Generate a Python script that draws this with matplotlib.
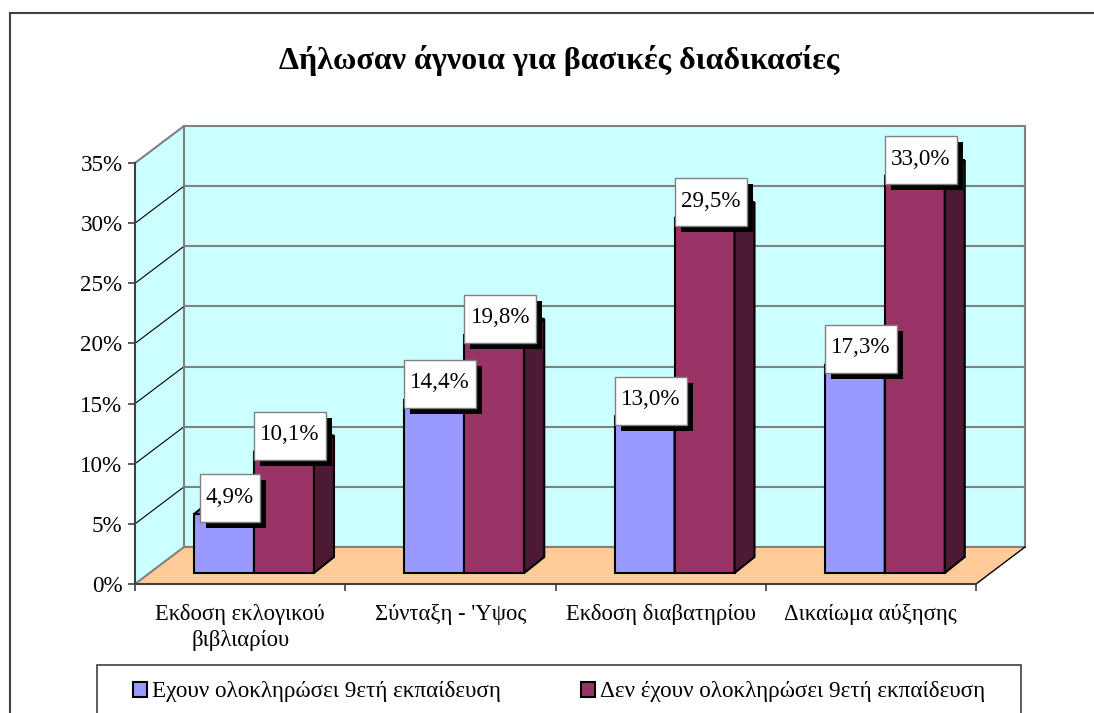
import matplotlib
matplotlib.use("Agg")
import matplotlib.pyplot as plt
from matplotlib.lines import Line2D
from matplotlib.patches import Patch, Rectangle

plt.rcParams['font.family'] = ['Liberation Serif', 'DejaVu Serif']

title = "Δήλωσαν άγνοια για βασικές διαδικασίες"
categories = ["Εκδοση εκλογικού\nβιβλιαρίου", "Σύνταξη - 'Υψος", "Εκδοση διαβατηρίου", "Δικαίωμα αύξησης"]
series_names = ["Εχουν ολοκληρώσει 9ετή εκπαίδευση", "Δεν έχουν ολοκληρώσει 9ετή εκπαίδευση"]
completed = [4.9, 14.4, 13.0, 17.3]
not_completed = [10.1, 19.8, 29.5, 33.0]
y_ticks = [0, 5, 10, 15, 20, 25, 30, 35]

WALL = '#CCFFFF'
FLOOR = '#FFCC99'
GRID = '#808080'
DARK = '#404040'
BLUE = ('#9999FF', '#4D4D80', '#7A7ACC')
PURPLE = ('#993366', '#4D1A33', '#7A2952')

W, H = 1094, 713
PX_X = 841 / 4   # pixels for one category
PX_Y = 421 / 35  # pixels for one percent


def ox(px):
    return px / PX_X


def oy(px):
    return px / PX_Y


fig = plt.figure(figsize=(W / 100, H / 100), dpi=100, facecolor='white')
ax = fig.add_axes([135 / W, (H - 584) / H, 841 / W, 421 / H])
ax.set_xlim(0, 4)
ax.set_ylim(0, 35)
ax.patch.set_visible(False)

# walls and floor, 49 px right and 37 px up from the front plane
wx, wy = ox(49), oy(37)
ax.fill([0, wx, wx, 0], [0, wy, 35 + wy, 35], fc=WALL, ec='none', zorder=1, clip_on=False)
ax.fill([wx, 4 + wx, 4 + wx, wx], [wy, wy, 35 + wy, 35 + wy], fc=WALL, ec=GRID, lw=1.5, zorder=1, clip_on=False)
ax.fill([0, 4, 4 + wx, wx], [0, 0, wy, wy], fc=FLOOR, ec='none', zorder=1, clip_on=False)
ax.plot([0, wx], [0, wy], color=GRID, lw=1.5, zorder=2, clip_on=False)
ax.plot([wx, 4 + wx], [wy, wy], color=GRID, lw=1.5, zorder=2, clip_on=False)
ax.plot([4, 4 + wx], [0, wy], color='black', lw=1, zorder=2, clip_on=False)
ax.plot([0, wx], [35, 35 + wy], color=GRID, lw=1.5, zorder=2, clip_on=False)
for t in y_ticks[1:-1]:
    ax.plot([0, wx], [t, t + wy], color='black', lw=0.8, zorder=2, clip_on=False)
    ax.plot([wx, 4 + wx], [t + wy, t + wy], color=GRID, lw=1.5, zorder=2, clip_on=False)

# bars
bar_w = ox(60)
bar_left = ox(59)
base = oy(11)
dx, dy = ox(20), oy(16)


def draw_bar(x, v, cols, z):
    top = base + v
    ax.fill([x, x + bar_w, x + bar_w, x], [base, base, top, top], fc=cols[0], ec='black', lw=1.5, zorder=z, clip_on=False)
    ax.fill([x + bar_w, x + bar_w + dx, x + bar_w + dx, x + bar_w], [base, base + dy, top + dy, top],
            fc=cols[1], ec='black', lw=1.5, zorder=z, clip_on=False)
    ax.fill([x, x + bar_w, x + bar_w + dx, x + dx], [top, top, top + dy, top + dy],
            fc=cols[2], ec='black', lw=1.5, zorder=z, clip_on=False)


def draw_label(x, v, z):
    txt = f"{v:.1f}%".replace('.', ',')
    bw = ox(60 if len(txt) == 4 else 72)
    bh = oy(48)
    cx = x + bar_w / 2 + ox(6)
    cy = base + v + dy
    ax.add_patch(Rectangle((cx - bw / 2 + ox(6), cy - bh / 2 - oy(6)), bw, bh, fc='black', ec='none', zorder=z, clip_on=False))
    ax.add_patch(Rectangle((cx - bw / 2, cy - bh / 2), bw, bh, fc='white', ec=GRID, lw=1, zorder=z + 0.1, clip_on=False))
    ax.text(cx, cy + oy(1), txt, ha='center', va='center', fontsize=16.6, color='black', zorder=z + 0.2)


for i in range(len(categories)):
    draw_bar(i + bar_left, completed[i], BLUE, 3 + i)
    draw_bar(i + bar_left + bar_w, not_completed[i], PURPLE, 3 + i + 0.1)
for i in range(len(categories)):
    draw_label(i + bar_left, completed[i], 10 + i)
    draw_label(i + bar_left + bar_w, not_completed[i], 10 + i + 0.5)

# axes
for s in ['top', 'right']:
    ax.spines[s].set_visible(False)
for s in ['left', 'bottom']:
    ax.spines[s].set_color(DARK)
    ax.spines[s].set_linewidth(1.5)
    ax.spines[s].set_zorder(2.5)
ax.set_yticks(y_ticks)
ax.set_yticklabels([f"{t}%" for t in y_ticks], fontsize=16.6)
ax.set_xticks(range(5))
ax.set_xticklabels([])
ax.set_xticks([i + 0.5 for i in range(4)], minor=True)
ax.set_xticklabels(categories, minor=True, fontsize=16.3, linespacing=1.3)
ax.tick_params(axis='both', which='major', length=5, width=1.2, color=DARK, pad=4)
ax.tick_params(axis='x', which='minor', length=0, pad=14.5)

fig.text(559 / W, 1 - 60 / H, title, ha='center', va='center', fontsize=23, fontweight='bold')

# outer frame runs past the right and bottom of the image
fig.add_artist(Line2D([10 / W, 10 / W], [0, 1 - 13 / H], color=DARK, lw=1.5))
fig.add_artist(Line2D([10 / W, 1], [1 - 13 / H, 1 - 13 / H], color=DARK, lw=1.5))

# legend box also runs past the bottom
fig.add_artist(Rectangle((97 / W, -10 / H), 924 / W, (H - 665 + 10) / H, transform=fig.transFigure,
                         fc='white', ec=DARK, lw=1.2))
handles = [Patch(fc=BLUE[0], ec='black', lw=1.5), Patch(fc=PURPLE[0], ec='black', lw=1.5)]
fig.legend(handles, series_names, loc='center left', bbox_to_anchor=(133 / W, 1 - 692 / H, 852 / W, 0),
           ncol=2, mode='expand', fontsize=16.7, frameon=False, borderaxespad=0, borderpad=0,
           handlelength=0.6, handleheight=0.6, handletextpad=0.22, columnspacing=2)

fig.savefig("out.png", dpi=100)
